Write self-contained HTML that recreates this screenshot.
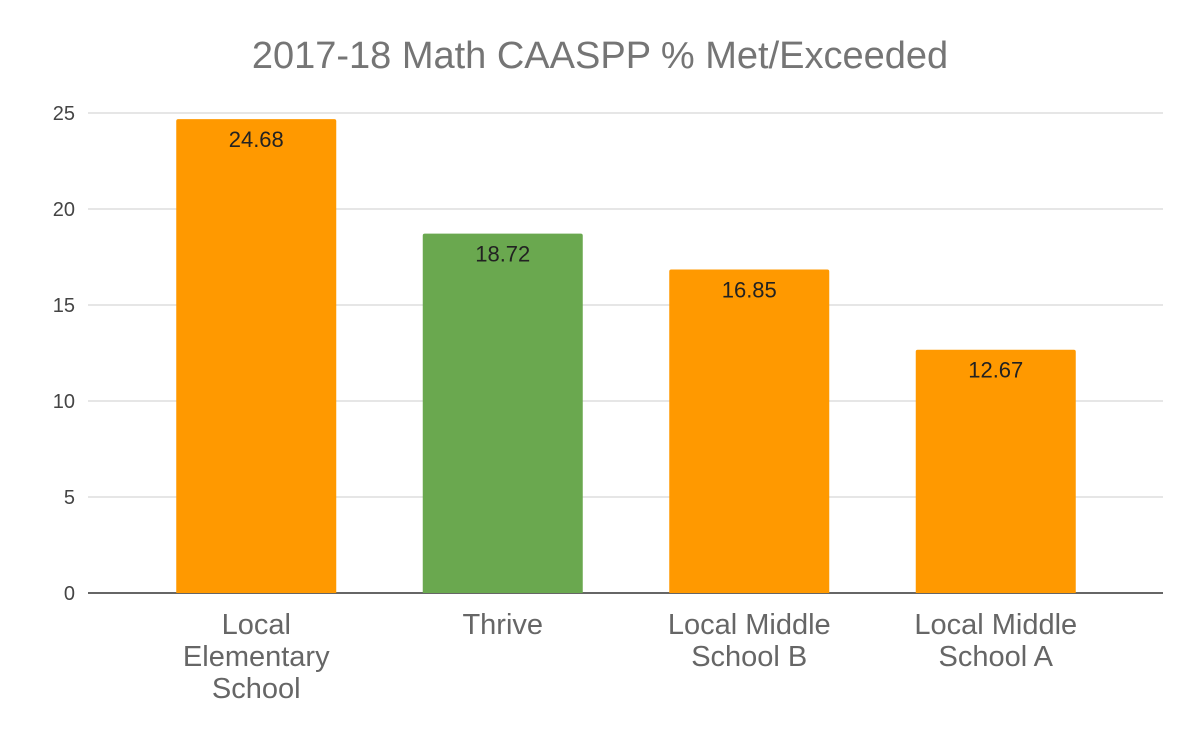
<!DOCTYPE html>
<html><head><meta charset="utf-8">
<style>
html,body{margin:0;padding:0;background:#fff;}
svg{display:block;font-family:"Liberation Sans",sans-serif;}
</style></head>
<body>
<svg id="chart" width="1200" height="741" viewBox="0 0 1200 741">
<rect width="1200" height="741" fill="#fff"/>
<text x="600" y="68" text-anchor="middle" font-size="38" fill="#757575">2017-18 Math CAASPP % Met/Exceeded</text>
<g id="grid"></g>
<g id="bars"></g>
<g id="labels"></g>
</svg>
<script>
const categories = [["Local","Elementary","School"],["Thrive"],["Local Middle","School B"],["Local Middle","School A"]];
const values = [24.68, 18.72, 16.85, 12.67];
const valueLabels = ["24.68","18.72","16.85","12.67"];
const barColors = ["#ff9900","#6aa84f","#ff9900","#ff9900"];
const yTicks = [0,5,10,15,20,25];

const NS="http://www.w3.org/2000/svg";
const plotLeft=88, plotRight=1163, y0=593, yTop=113, yMax=25;
const bandLeft=133, bandRight=1119;
const yScale=v=>y0-(v/yMax)*(y0-yTop);
const band=(bandRight-bandLeft)/categories.length;
const xCenter=i=>bandLeft+band*(i+0.5);
const barW=160;
function mk(tag,attrs,parent){const e=document.createElementNS(NS,tag);for(const k in attrs)e.setAttribute(k,attrs[k]);parent.appendChild(e);return e;}
const grid=document.getElementById('grid'),bars=document.getElementById('bars'),labels=document.getElementById('labels');
yTicks.forEach(t=>{
  const y=yScale(t);
  const l=mk('line',{x1:plotLeft,x2:plotRight,y1:y,y2:y,stroke:t===0?'#333':'#ccc','stroke-width':t===0?1.5:1},grid);
  
  
  const tx=mk('text',{x:75,y:y+7,'text-anchor':'end','font-size':20,fill:'#444'},grid);
  tx.textContent=t;
  
  
});
values.forEach((v,i)=>{
  const cx=xCenter(i),y=yScale(v);
  const r=mk('path',{d:`M${cx-barW/2},${y0} V${y+2} Q${cx-barW/2},${y} ${cx-barW/2+2},${y} H${cx+barW/2-2} Q${cx+barW/2},${y} ${cx+barW/2},${y+2} V${y0} Z`,fill:barColors[i]},bars);
  
  
  const vt=mk('text',{x:cx,y:y+28,'text-anchor':'middle','font-size':22,fill:'#222'},labels);
  vt.textContent=valueLabels[i];
  
  
  categories[i].forEach((line,j)=>{
    const ct=mk('text',{x:cx,y:634+j*32,'text-anchor':'middle','font-size':29,fill:'#666'},labels);
    ct.textContent=line;
    
    
  });
});
</script>
</body></html>
